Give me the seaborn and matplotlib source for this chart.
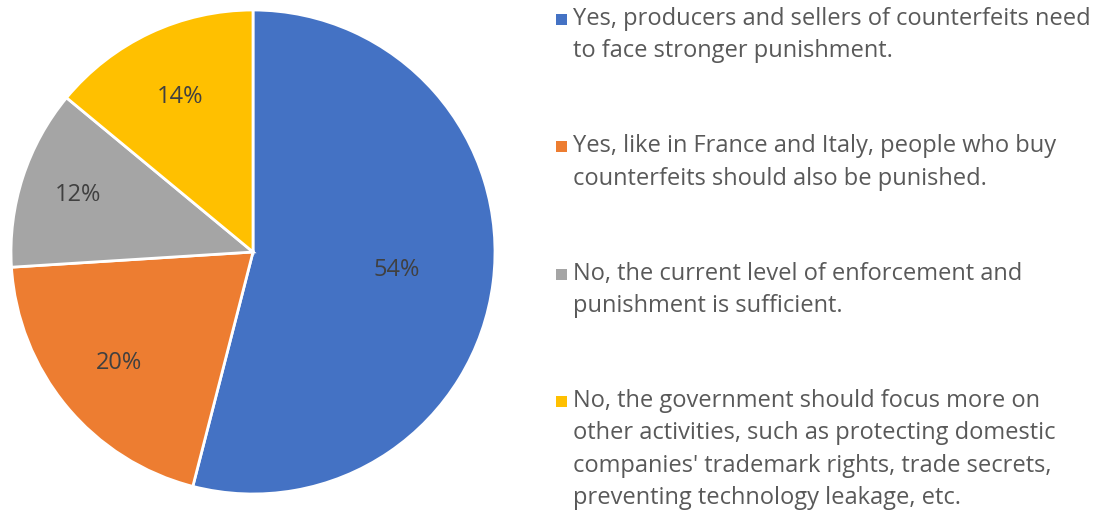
import numpy as np
import matplotlib
matplotlib.use("Agg")
import matplotlib.pyplot as plt
import seaborn as sns

# Survey answers and their shares (%)
answers = [
    "Yes, producers and sellers of counterfeits need\nto face stronger punishment.",
    "Yes, like in France and Italy, people who buy\ncounterfeits should also be punished.",
    "No, the current level of enforcement and\npunishment is sufficient.",
    "No, the government should focus more on\nother activities, such as protecting domestic\ncompanies' trademark rights, trade secrets,\npreventing technology leakage, etc.",
]
shares = [54, 20, 12, 14]
colors = ["#4472C4", "#ED7D31", "#A5A5A5", "#FFC000"]
# radial position of each percentage label (fraction of radius)
label_radius = [0.60, 0.72, 0.76, 0.71]

sns.set_theme(style="white")
plt.rcParams["font.family"] = ["Open Sans", "DejaVu Sans"]
text_color = "#595959"

W, H = 1095, 512
fig = plt.figure(figsize=(W / 100, H / 100), dpi=100)
fig.patch.set_facecolor("white")

# pie axes: centre (253, 252) px, radius 242 px
cx, cy, r = 253, 252, 242
ax = fig.add_axes([(cx - r) / W, (H - cy - r) / H, 2 * r / W, 2 * r / H])
wedges, _ = ax.pie(
    shares, colors=colors, startangle=90, counterclock=False,
    wedgeprops=dict(edgecolor="white", linewidth=2),
)
ax.set_xlim(-1, 1)
ax.set_ylim(-1, 1)
ax.set_aspect("auto")
ax.axis("off")

for w, val, rl in zip(wedges, shares, label_radius):
    mid = np.deg2rad((w.theta1 + w.theta2) / 2)
    ax.text(rl * np.cos(mid), rl * np.sin(mid), f"{val}%",
            ha="center", va="center", fontsize=17, color="#404040")

# legend column: square swatch and wrapped label, entries stacked evenly
x_sq, x_txt = 556, 573
y0, step = 20, 127.3
for i, (label, col) in enumerate(zip(answers, colors)):
    y = y0 + i * step
    fig.patches.append(plt.Rectangle((x_sq / W, (H - y - 5) / H), 11 / W, 11 / H,
                                     transform=fig.transFigure, facecolor=col,
                                     edgecolor="none"))
    fig.text(x_txt / W, (H - y + 13) / H, label, ha="left", va="top",
             fontsize=17, color=text_color, linespacing=1.47)

fig.savefig("out.png", dpi=100, facecolor="white")
